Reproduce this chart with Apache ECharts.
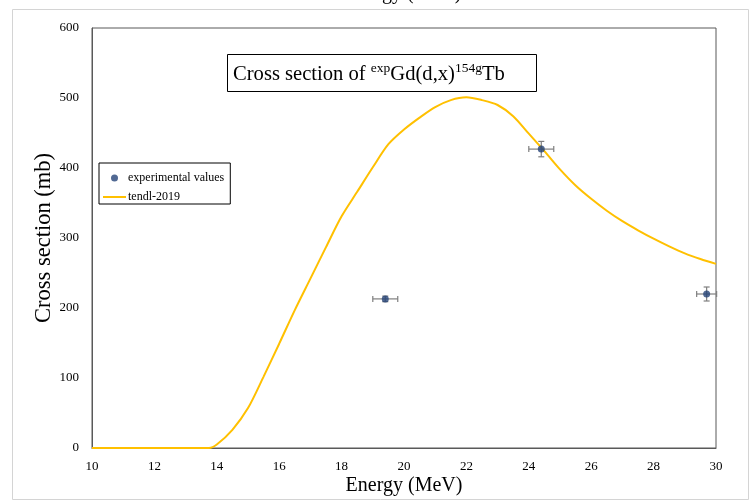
<!DOCTYPE html>
<html>
<head>
<meta charset="utf-8">
<script src="https://cdn.jsdelivr.net/npm/echarts@6/dist/echarts.min.js"></script>
<style>
  html, body { margin: 0; padding: 0; background: #fff; }
  #chart { width: 753px; height: 501px; }
</style>
</head>
<body>
<div id="chart"></div>
<script>
// TENDL-2019 excitation function (energy in MeV, cross section in mb)
const tendlEnergy = [10, 11, 12, 13, 13.75, 14, 14.5, 15, 15.5, 16, 16.5, 17, 17.5, 18, 18.5, 19, 19.5, 20, 20.5, 21, 21.5, 22, 22.5, 23, 23.5, 24, 24.5, 25, 25.5, 26, 26.5, 27, 27.5, 28, 28.5, 29, 29.5, 30];
const tendlXs = [0, 0, 0, 0, 0, 5, 26, 57, 102, 149, 197, 242, 287, 331, 366, 401, 434, 455, 472, 487, 497, 501, 497, 490, 474, 449, 424, 398, 375, 356, 339, 324, 311, 299, 288, 278, 270, 263];

// Measured cross sections with uncertainties
const expEnergy = [19.4, 24.4, 29.7];
const expXs = [213, 427, 220];
const expEnergyErr = [0.4, 0.4, 0.32];
const expXsErr = [4, 11, 10];

// Axis ticks
const xTicks = { min: 10, max: 30, interval: 2 };
const yTicks = { min: 0, max: 600, interval: 100 };

const serif = 'Liberation Serif';

const tendlData = tendlEnergy.map((e, i) => [e, tendlXs[i]]);
const expData = expEnergy.map((e, i) => [e, expXs[i]]);
const errData = expEnergy.map((e, i) => [e, expXs[i], expEnergyErr[i], expXsErr[i]]);

const chart = echarts.init(document.getElementById('chart'), null, { renderer: 'canvas' });

function renderErrorBar(params, api) {
  const x = api.value(0), y = api.value(1), dx = api.value(2), dy = api.value(3);
  const c = api.coord([x, y]);
  const l = api.coord([x - dx, y]), r = api.coord([x + dx, y]);
  const t = api.coord([x, y + dy]), b = api.coord([x, y - dy]);
  const cap = 3;
  const style = { stroke: '#7f7f7f', lineWidth: 1.2 };
  const seg = (x1, y1, x2, y2) => ({ type: 'line', shape: { x1, y1, x2, y2 }, style });
  return {
    type: 'group',
    children: [
      seg(l[0], c[1], r[0], c[1]),
      seg(l[0], c[1] - cap, l[0], c[1] + cap),
      seg(r[0], c[1] - cap, r[0], c[1] + cap),
      seg(c[0], t[1], c[0], b[1]),
      seg(c[0] - cap, t[1], c[0] + cap, t[1]),
      seg(c[0] - cap, b[1], c[0] + cap, b[1])
    ]
  };
}

const option = {
  backgroundColor: '#fff',
  animation: false,
  textStyle: { fontFamily: serif },
  grid: {
    left: 92, right: 37, top: 28, bottom: 52,
    show: true, borderColor: '#595959', borderWidth: 1
  },
  title: {
    text: '{m|Cross section of }{s|exp}{m|Gd(d,x)}{s|154g}{m|Tb}',
    left: 227, top: 54,
    padding: [7, 32, 7, 6],
    borderColor: '#000', borderWidth: 1,
    backgroundColor: '#fff',
    textStyle: {
      fontWeight: 'normal',
      rich: {
        m: { fontFamily: serif, fontSize: 20.6, fontWeight: 'normal', color: '#000', lineHeight: 24, verticalAlign: 'bottom' },
        s: { fontFamily: serif, fontSize: 13.5, fontWeight: 'normal', color: '#000', lineHeight: 24, verticalAlign: 'top' }
      }
    }
  },
  legend: {
    orient: 'vertical',
    left: 99, top: 163,
    padding: [9, 6, 1, 3],
    itemGap: 7,
    itemWidth: 23, itemHeight: 7,
    borderColor: '#000', borderWidth: 1,
    backgroundColor: '#fff',
    textStyle: { fontFamily: serif, fontSize: 12, color: '#000', padding: [0, 0, 0, -3] },
    data: [
      { name: 'experimental values', icon: 'circle' },
      { name: 'tendl-2019', itemStyle: { opacity: 0 } }
    ]
  },
  xAxis: {
    type: 'value',
    min: xTicks.min, max: xTicks.max, interval: xTicks.interval,
    name: 'Energy (MeV)', nameLocation: 'middle', nameGap: 28,
    nameMoveOverlap: false,
    nameTextStyle: { fontFamily: serif, fontSize: 20, color: '#000' },
    axisLine: { show: true, lineStyle: { color: '#595959', width: 1 } },
    axisTick: { show: false },
    splitLine: { show: false },
    axisLabel: { fontFamily: serif, fontSize: 13, color: '#000', margin: 12 }
  },
  yAxis: {
    type: 'value',
    min: yTicks.min, max: yTicks.max, interval: yTicks.interval,
    name: 'Cross section (mb)', nameLocation: 'middle', nameGap: 36,
    nameMoveOverlap: false,
    nameTextStyle: { fontFamily: serif, fontSize: 22.5, color: '#000' },
    axisLine: { show: true, lineStyle: { color: '#595959', width: 1 } },
    axisTick: { show: false },
    splitLine: { show: false },
    axisLabel: { fontFamily: serif, fontSize: 13, color: '#000', margin: 13 }
  },
  series: [
    {
      name: 'tendl-2019',
      type: 'line',
      data: tendlData,
      symbol: 'none',
      smooth: 0.3,
      lineStyle: { color: '#FFC000', width: 2 },
      itemStyle: { color: '#FFC000' },
      z: 3
    },
    {
      name: 'errors',
      type: 'custom',
      data: errData,
      renderItem: renderErrorBar,
      encode: { x: 0, y: 1 },
      silent: true,
      z: 4
    },
    {
      name: 'experimental values',
      type: 'scatter',
      data: expData,
      symbol: 'circle',
      symbolSize: 7,
      itemStyle: { color: '#264478' },
      z: 5
    }
  ],
  graphic: [
    {
      type: 'rect',
      shape: { x: 12.5, y: 9.5, width: 736, height: 490 },
      style: { fill: 'none', stroke: '#d4d4d4', lineWidth: 1 },
      silent: true, z: -10
    },
    {
      type: 'text',
      x: 403, y: 4,
      style: {
        text: 'Energy (MeV)', fontFamily: serif, fontSize: 20, fill: '#000',
        align: 'center', verticalAlign: 'bottom'
      },
      silent: true
    }
  ]
};

chart.setOption(option);
</script>
</body>
</html>
